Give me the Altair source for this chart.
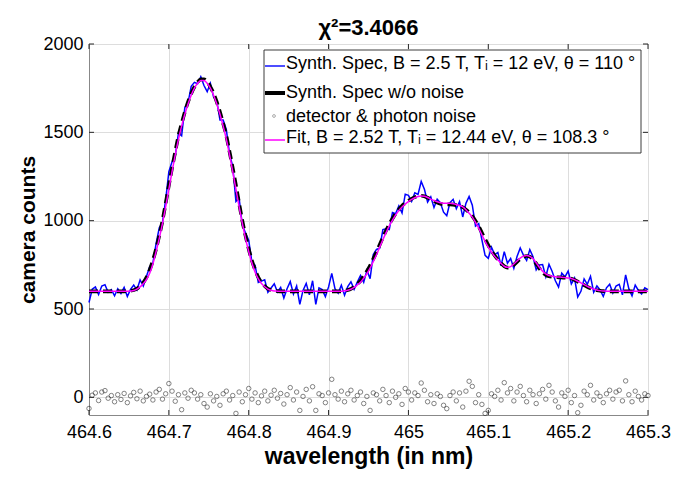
import numpy as np
import pandas as pd
import altair as alt

# ---------------- data ----------------
WL_START = 464.6
WL_STEP = 0.004

# synthetic spectrum without noise (black dashed)
noiseless = (
    [600] * 12
    + [601, 603, 607, 615, 630, 650, 680, 722, 775, 840,
       915, 1000, 1098, 1200, 1298, 1390, 1480, 1550, 1615, 1672,
       1720, 1758, 1785, 1800, 1800, 1785, 1758, 1720, 1672, 1615,
       1550, 1480, 1390, 1298, 1200, 1098, 1000, 915, 840, 775,
       722, 680, 650, 630, 615, 607, 603, 601]
    + [600] * 20
    + [603, 607, 614, 626, 642, 660, 686, 714, 746, 784,
       822, 864, 905, 944, 980, 1011, 1040, 1064, 1084, 1100,
       1113, 1124, 1133, 1139, 1141, 1138, 1130, 1120, 1110, 1102,
       1096, 1093, 1092, 1092, 1091, 1088, 1083, 1076, 1063, 1046,
       1026, 999, 968, 932, 895, 861, 830, 803, 780, 759,
       742, 734, 736, 750, 767, 783, 795, 800, 796, 781,
       757, 730, 707, 693, 685, 682, 680, 679, 678, 677,
       675, 672, 665, 655, 645, 635, 625, 617, 610, 606,
       603, 601]
    + [600] * 14
)

# fitted spectrum (magenta)
fit = (
    [600] * 13
    + [602, 605, 612, 625, 643, 667, 702, 755, 825, 900,
       985, 1078, 1178, 1278, 1372, 1460, 1535, 1602, 1660, 1710,
       1750, 1778, 1793, 1793, 1778, 1750, 1710, 1660, 1602, 1535,
       1460, 1372, 1278, 1178, 1078, 985, 900, 825, 760, 708,
       670, 644, 626, 613, 606, 602, 601]
    + [600] * 20
    + [603, 606, 612, 622, 636, 651, 675, 700, 731, 768,
       807, 850, 892, 932, 970, 1002, 1032, 1057, 1077, 1094,
       1108, 1120, 1130, 1137, 1140, 1138, 1131, 1122, 1114, 1107,
       1102, 1099, 1098, 1098, 1096, 1092, 1086, 1078, 1062, 1042,
       1020, 990, 958, 920, 883, 850, 822, 798, 778, 758,
       742, 736, 740, 755, 772, 788, 799, 803, 798, 784,
       762, 736, 714, 699, 690, 686, 683, 681, 680, 678,
       676, 673, 666, 657, 648, 638, 628, 620, 613, 608,
       604, 602, 601]
    + [600] * 13
)

# detector & photon noise (open circles)
noise = [
    -63, 12, 25, -18, 30, 38, -5, 10, -25, 15,
    -12, 22, -30, 8, 28, -8, 35, -20, 5, 18,
    -15, 30, 45, -10, 20, 78, 35, -22, 15, -70,
    25, -5, 40, 25, -10, 15, -35, -55, 20, -20,
    5, -45, 20, 35, -15, 10, -91, 30, -25, 15,
    50, -10, 25, -30, 8, 35, -20, 12, 40, -5,
    22, -38, 15, 55, -15, 30, -74, 5, 45, -20,
    60, -74, 20, 10, -30, 25, 102, 15, -10, 35,
    -25, 20, 40, -15, 10, 30, -35, 5, -74, 25,
    15, -20, 45, 10, -30, 35, 0, 20, -40, 50,
    30, -15, 25, 10, 81, 40, -25, 15, -35, 20,
    5, -45, -64, 10, 30, -20, 25, -55, 35, 91,
    62, -30, 15, -40, -91, -74, 20, 5, 40, -15,
    83, 25, 50, -20, 30, 62, 10, -25, 40, 15,
    -35, 20, 45, -10, 68, 30, -20, -55, 25, 5,
    40, -30, 10, -87, -45, 35, 15, 68, -15, 25,
    5, -30, 20, 40, -10, 30, 40, -20, 93, 15,
    -25, 35, 5, -15, 20, 10,
]

x_ticks = [464.6, 464.7, 464.8, 464.9, 465.0, 465.1, 465.2, 465.3]
y_ticks = [0, 500, 1000, 1500, 2000]

legend_labels = [
    "Synth. Spec, B = 2.5 T, T\u1d62 = 12 eV, \u03b8 = 110 \u00b0",
    "Synth. Spec w/o noise",
    "detector & photon noise",
    "Fit, B = 2.52 T, T\u1d62 = 12.44 eV, \u03b8 = 108.3 \u00b0",
]

n = len(noiseless)
df = pd.DataFrame({
    "wl": WL_START + WL_STEP * np.arange(n),
    "noiseless": noiseless,
    "fit": fit,
    "noise": noise,
})
df["synth"] = df["noiseless"] + df["noise"]

# ---------------- styling ----------------
FONT = "Liberation Sans"
W, H = 559, 371
AX = "#262626"

xscale = alt.Scale(domain=[464.6, 465.3], nice=False, zero=False)
yscale = alt.Scale(domain=[-100, 2000], nice=False, zero=False)
xaxis = alt.Axis(values=x_ticks, title="wavelength (in nm)",
                 labelExpr="format(datum.value, '~g')",
                 grid=True, ticks=False, labelFlush=False, labelOverlap=False,
                 labelPadding=8, titlePadding=4,
                 labelFontSize=18, titleFontSize=23)
yaxis = alt.Axis(values=y_ticks, title="camera counts",
                 labelExpr="format(datum.value, 'd')",
                 grid=True, ticks=False, labelFlush=False, labelOverlap=False,
                 labelPadding=6, titlePadding=4,
                 labelFontSize=18, titleFontSize=21)

base = alt.Chart(df)

blue = base.mark_line(color="#0000ff", strokeWidth=1.5).encode(
    x=alt.X("wl:Q", scale=xscale, axis=xaxis),
    y=alt.Y("synth:Q", scale=yscale, axis=yaxis),
)
black = base.mark_line(color="black", strokeWidth=3.6, strokeDash=[9, 5],
                       interpolate="monotone").encode(
    x=alt.X("wl:Q", scale=xscale, axis=xaxis),
    y=alt.Y("noiseless:Q", scale=yscale, axis=yaxis),
)
pts = base.mark_point(shape="circle", filled=False, size=20, strokeWidth=0.8,
                      color="#222222").encode(
    x=alt.X("wl:Q", scale=xscale, axis=xaxis),
    y=alt.Y("noise:Q", scale=yscale, axis=yaxis),
)
magenta = base.mark_line(color="#ff00ff", strokeWidth=1.5,
                         interpolate="monotone").encode(
    x=alt.X("wl:Q", scale=xscale, axis=xaxis),
    y=alt.Y("fit:Q", scale=yscale, axis=yaxis),
)

# inner (MATLAB style) ticks on all four sides
xt = pd.DataFrame({"v": x_ticks})
yt = pd.DataFrame({"v": y_ticks})
tick_kw = dict(color=AX, strokeWidth=1)
xt_bot = alt.Chart(xt).mark_rule(**tick_kw).encode(
    x=alt.X("v:Q", scale=xscale, axis=xaxis), y=alt.value(H), y2=alt.value(H - 5))
xt_top = alt.Chart(xt).mark_rule(**tick_kw).encode(
    x=alt.X("v:Q", scale=xscale, axis=xaxis), y=alt.value(0), y2=alt.value(5))
yt_left = alt.Chart(yt).mark_rule(**tick_kw).encode(
    y=alt.Y("v:Q", scale=yscale, axis=yaxis), x=alt.value(0), x2=alt.value(5))
yt_right = alt.Chart(yt).mark_rule(**tick_kw).encode(
    y=alt.Y("v:Q", scale=yscale, axis=yaxis), x=alt.value(W), x2=alt.value(W - 5))

# legend box
one = pd.DataFrame({"k": [0]})
leg_box = alt.Chart(one).mark_rect(fill="white", stroke=AX, strokeWidth=0.9).encode(
    x=alt.value(175), x2=alt.value(552), y=alt.value(6), y2=alt.value(109))
leg_blue = alt.Chart(one).mark_rule(color="#0000ff", strokeWidth=1.4).encode(
    x=alt.value(176), x2=alt.value(196), y=alt.value(22))
leg_black = alt.Chart(one).mark_rule(color="black", strokeWidth=4).encode(
    x=alt.value(176), x2=alt.value(196), y=alt.value(49))
leg_pt = alt.Chart(one).mark_point(shape="circle", filled=False, size=8,
                                   strokeWidth=0.7, color="#555555").encode(
    x=alt.value(185), y=alt.value(72))
leg_mag = alt.Chart(one).mark_rule(color="#ff00ff", strokeWidth=1.5).encode(
    x=alt.value(176), x2=alt.value(196), y=alt.value(96))


def leg_text(label, ypix):
    return alt.Chart(pd.DataFrame({"t": [label]})).mark_text(
        align="left", baseline="alphabetic", font=FONT, fontSize=18, color="black"
    ).encode(x=alt.value(197), y=alt.value(ypix), text="t:N")


leg_texts = [leg_text(l, y) for l, y in zip(legend_labels, [25, 54, 78, 99])]

chart = alt.layer(
    blue, black, pts, magenta,
    xt_bot, xt_top, yt_left, yt_right,
    leg_box, leg_blue, leg_black, leg_pt, leg_mag, *leg_texts,
).properties(
    width=W, height=H,
    title=alt.TitleParams(text="\u03c7\u00b2=3.4066", fontSize=22, fontWeight="bold",
                          font=FONT, color="black", offset=8, dy=13),
    autosize=alt.AutoSizeParams(type="none"),
    padding={"left": 89, "top": 44, "right": 40, "bottom": 65},
).configure_view(
    stroke=AX, strokeWidth=1
).configure_axis(
    labelFont=FONT, titleFont=FONT, labelColor=AX, titleColor=AX,
    titleFontWeight="bold", domainColor=AX, domainWidth=1,
    gridColor="#d9d9d9", gridWidth=1, gridOpacity=1,
).configure(background="white")

chart.save("out.html", embed_options={"renderer": "svg", "actions": False})
